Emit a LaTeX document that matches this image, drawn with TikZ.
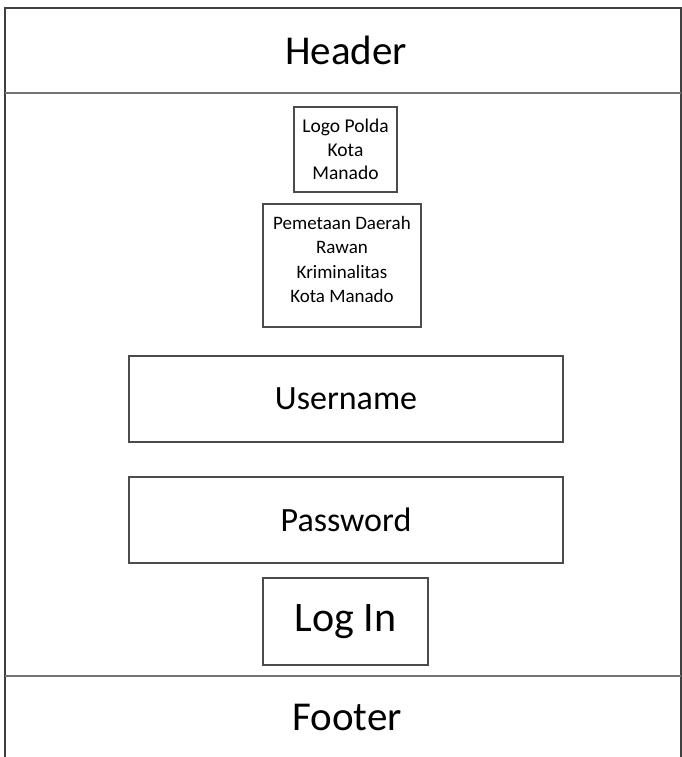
\documentclass[tikz,border=0pt]{standalone}
\usepackage{fontspec}
\setmainfont{Carlito}
\begin{document}
\begin{tikzpicture}[x=1pt,y=-1pt,
  frameline/.style={draw=black!75,line width=1.6pt},
  secline/.style={draw=black!55,line width=2pt},
  wbox/.style={draw=black!70,line width=1.2pt,rectangle,inner sep=0pt,align=center,text=black},
  bigtxt/.style={font=\fontsize{41}{48}\selectfont,inner sep=0pt},
  midtxt/.style={font=\fontsize{34}{40}\selectfont},
  smalltxt/.style={font=\fontsize{19.5}{23.5}\selectfont,align=center,inner sep=0pt}
]
\useasboundingbox (0,0) rectangle (682,757);
\fill[white] (0,0) rectangle (682,757);
% frame
\coordinate (tl) at (5,8);
\coordinate (tr) at (681,8);
\coordinate (bl) at (5,757);
\coordinate (br) at (681,757);
\coordinate (hl) at (5,93);
\coordinate (hr) at (681,93);
\coordinate (fl) at (5,676);
\coordinate (fr) at (681,676);
\draw[frameline] (bl) -- (tl) -- (tr) -- (br);
\draw[secline] (hl) -- (hr);
\draw[secline] (fl) -- (fr);
% header / footer
\node[bigtxt] (header) at (346,50) {Header};
\node[bigtxt] (footer) at (347,717) {Footer};
% logo
\node[wbox,minimum width=103pt,minimum height=85pt] (logo) at (345.5,149.5) {};
\node[smalltxt] (logotext) at (logo.center) {Logo Polda\\Kota\\Manado};
% map title
\node[wbox,minimum width=158pt,minimum height=123pt] (map) at (342,265.5) {};
\node[smalltxt,font=\fontsize{19}{24.3}\selectfont] (maptext) at ([yshift=6pt]map.center) {Pemetaan Daerah\\Rawan\\Kriminalitas\\Kota Manado};
% fields
\node[wbox,minimum width=434pt,minimum height=86pt,midtxt] (user) at (346,399) {Username};
\node[wbox,minimum width=434pt,minimum height=86pt,midtxt] (pass) at (346,520) {Password};
\node[wbox,minimum width=165pt,minimum height=87pt,font=\fontsize{42}{48}\selectfont] (login) at (345.5,621.5) {Log In};
\end{tikzpicture}
\end{document}
